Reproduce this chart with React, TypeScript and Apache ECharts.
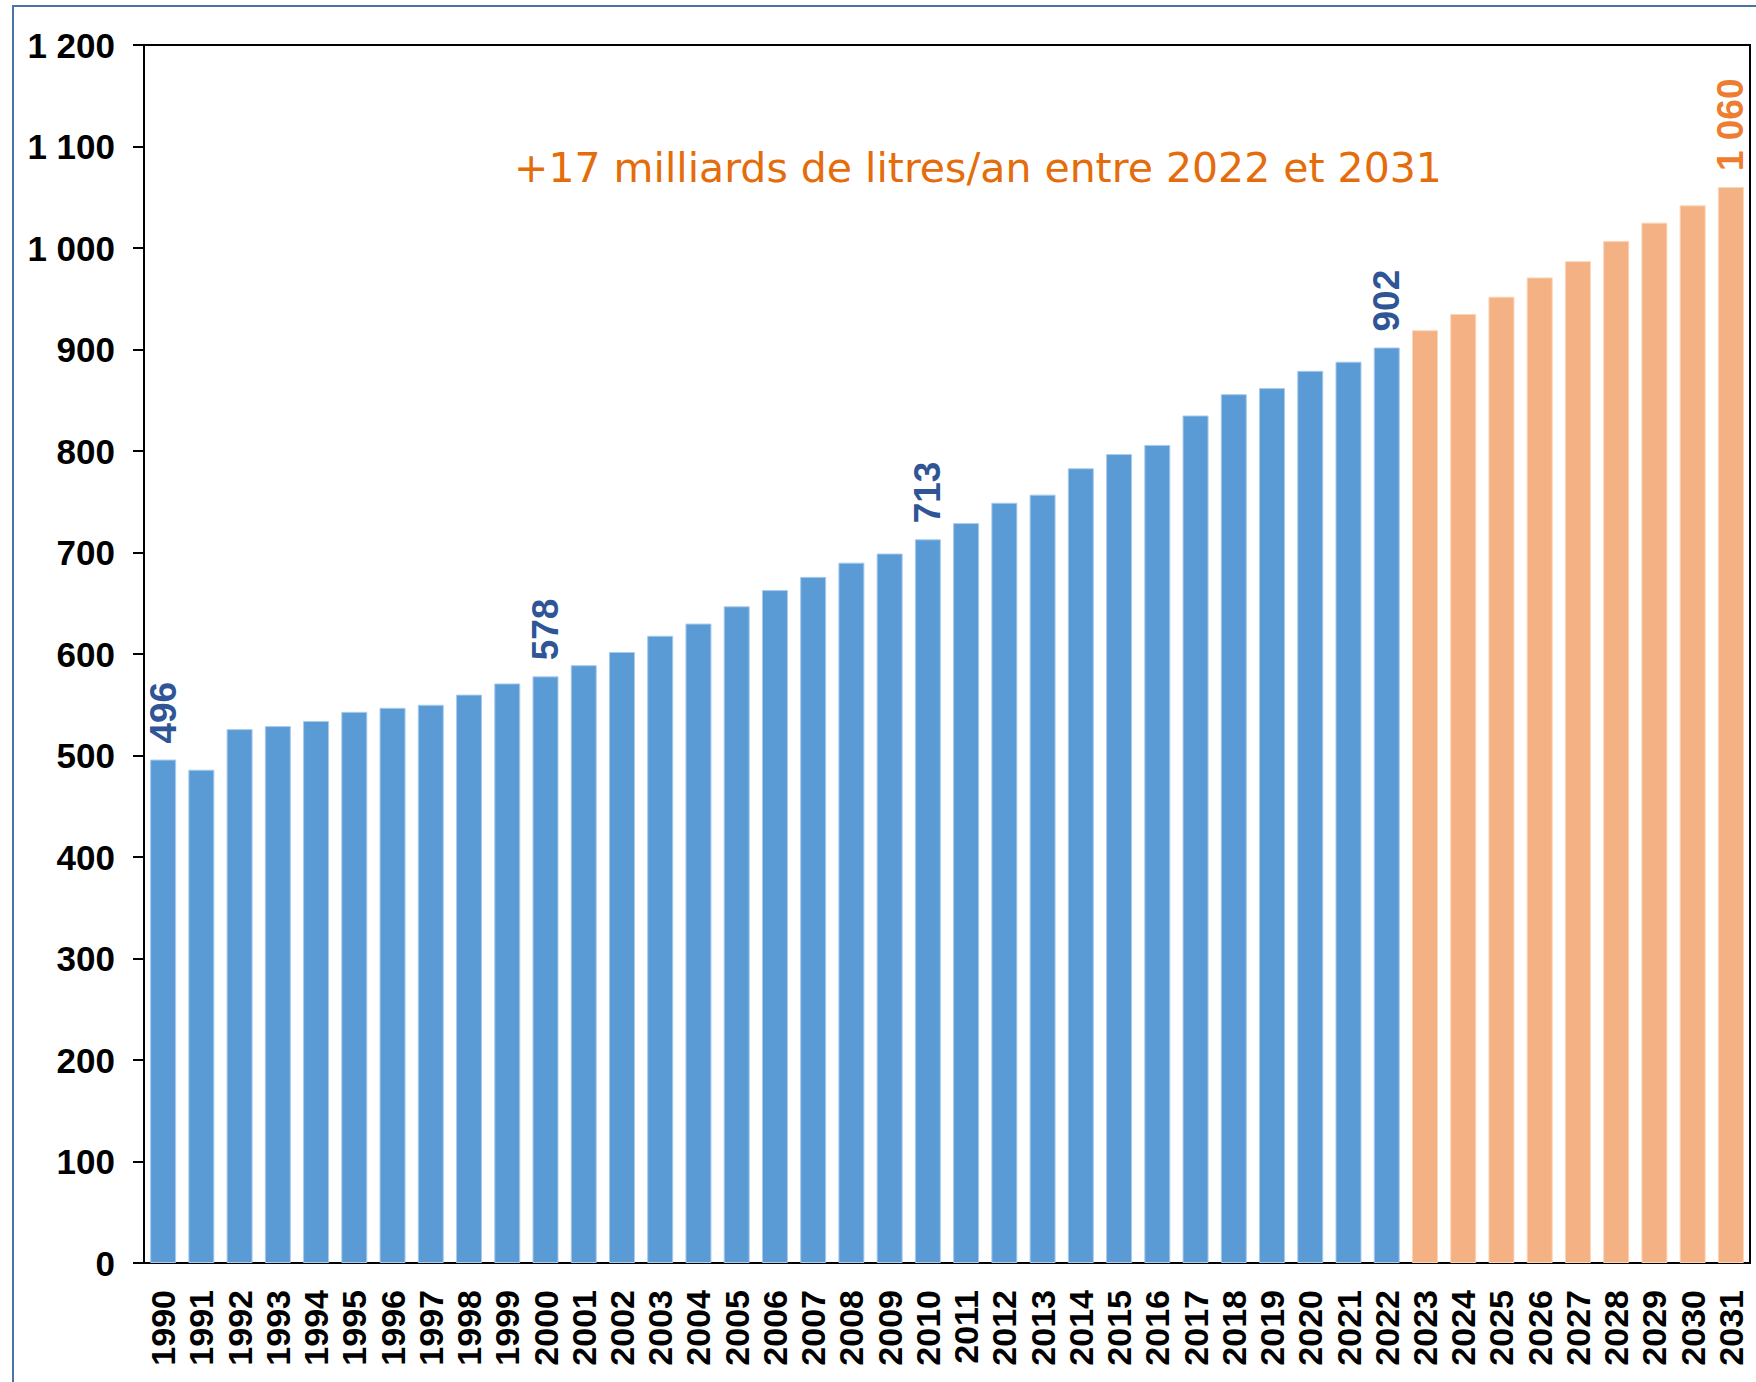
import React, { useEffect, useRef } from "react";
import * as echarts from "echarts";

const years: string[] = [];
for (let y = 1990; y <= 2031; y++) years.push(String(y));

const historical: number[] = [
  496, 486, 526, 529, 534, 543, 547, 550, 560, 571,
  578, 589, 602, 618, 630, 647, 663, 676, 690, 699,
  713, 729, 749, 757, 783, 797, 806, 835, 856, 862,
  879, 888, 902,
];
const forecast: number[] = [919, 935, 952, 971, 987, 1007, 1025, 1042, 1060];
const labelledYears: string[] = ["1990", "2000", "2010", "2022", "2031"];
const annotation = "+17 milliards de litres/an entre 2022 et 2031";

const BLUE = "#5b9bd5";
const ORANGE = "#f4b183";
const BLUE_LABEL = "#2f5597";
const ORANGE_LABEL = "#ed7d31";

const fmt = (v: number) => {
  const s = String(Math.round(v));
  if (s.length > 3) return s.slice(0, s.length - 3) + " " + s.slice(-3);
  return s;
};

export default function App() {
  const ref = useRef<HTMLDivElement>(null);
  useEffect(() => {
    if (!ref.current) return;
    const chart = echarts.init(ref.current, null, { renderer: "svg" });
    const values = [...historical, ...forecast];
    const data = values.map((v, i) => {
      const isF = i >= historical.length;
      const show = labelledYears.includes(years[i]);
      return {
        value: v,
        itemStyle: {
          color: isF ? ORANGE : BLUE,
          borderColor: isF ? "#fbd5b8" : "#a9cbec",
          borderWidth: 1,
        },
        label: {
          show,
          color: isF ? ORANGE_LABEL : BLUE_LABEL,
        },
      };
    });
    chart.setOption({
      animation: false,
      backgroundColor: "#ffffff",
      grid: {
        left: 144,
        top: 45,
        right: 6,
        bottom: 119,
        show: true,
        borderColor: "#000000",
        borderWidth: 2,
        containLabel: false,
      },
      graphic: [
        {
          type: "rect",
          shape: { x: 13, y: 6, width: 1800, height: 1450 },
          style: { fill: "none", stroke: "#4a72ab", lineWidth: 2 },
          silent: true,
          z: 100,
        },
        {
          type: "text",
          x: 978,
          y: 168,
          style: {
            text: annotation,
            fill: "#e46c0a",
            font: "400 41px 'DejaVu Sans', Inter, sans-serif",
            textAlign: "center",
            textVerticalAlign: "middle",
          },
          z: 100,
        },
      ],
      xAxis: {
        type: "category",
        data: years,
        axisLine: { show: true, lineStyle: { color: "#000000", width: 2 } },
        axisTick: { show: false },
        axisLabel: {
          rotate: 90,
          margin: 27,
          interval: 0,
          color: "#000000",
          fontFamily: "'Liberation Sans', Arial, sans-serif",
          fontWeight: "bold",
          fontSize: 34,
        },
      },
      yAxis: {
        type: "value",
        min: 0,
        max: 1200,
        interval: 100,
        splitLine: { show: false },
        axisLine: { show: true, lineStyle: { color: "#000000", width: 2 } },
        axisTick: { show: true, length: 11, lineStyle: { color: "#000000", width: 2 } },
        axisLabel: {
          margin: 29,
          color: "#000000",
          fontFamily: "'Liberation Sans', Arial, sans-serif",
          fontWeight: "bold",
          fontSize: 35,
          formatter: (v: number) => fmt(v),
        },
      },
      series: [
        {
          type: "bar",
          data,
          barCategoryGap: "32%",
          label: {
            show: false,
            position: "top",
            rotate: 90,
            align: "left",
            verticalAlign: "middle",
            distance: 16,
            fontFamily: "'Liberation Sans', Arial, sans-serif",
            fontWeight: "bold",
            fontSize: 37,
            formatter: (p: any) => fmt(p.value),
          },
        },
      ],
    });
    return () => chart.dispose();
  }, []);
  return (
    <div
      ref={ref}
      style={{ position: "fixed", left: 0, top: 0, width: 1756, height: 1382 }}
    />
  );
}
